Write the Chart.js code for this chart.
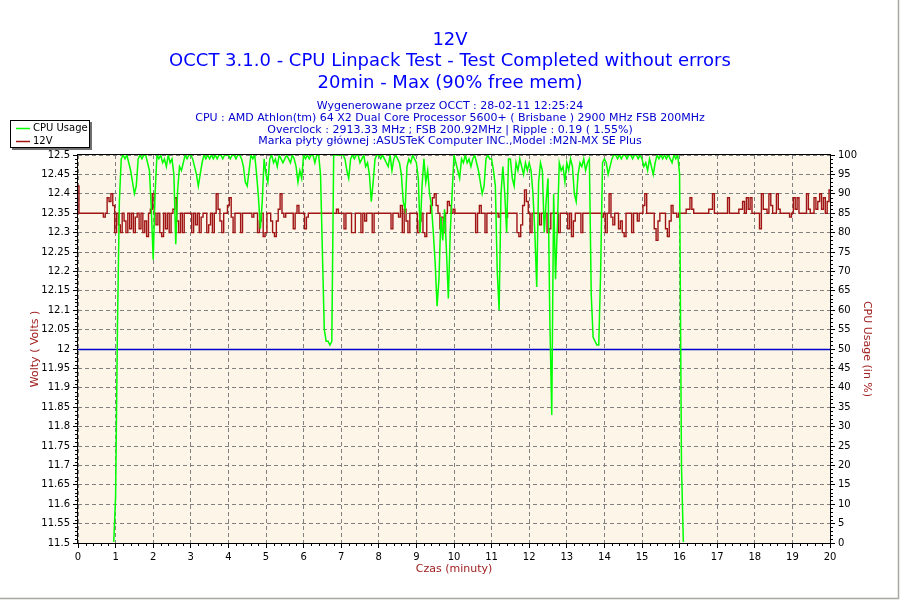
<!DOCTYPE html>
<html>
<head>
<meta charset="utf-8">
<title>12V - OCCT</title>
<script src="https://cdn.jsdelivr.net/npm/chart.js@4/dist/chart.umd.min.js"></script>
<style>
    html, body { margin: 0; padding: 0; background: #fff; }
    #chart { display: block; }
</style>
</head>
<body>
<canvas id="chart" width="900" height="600"></canvas>
<script>
// OCCT 12V graph - CPU Linpack test, 20 min run

// one sample every 0.05 min (3 s), 401 samples per series
const SAMPLE_STEP = 0.05;

// 12V rail (volts), one row per minute
const volts12 = [
    12.42,12.35,12.35,12.35,12.35,12.35,12.35,12.35,12.35,12.35,12.35,12.35,12.35,12.35,12.34,12.35,12.39,12.38,12.40,12.37,
    12.30,12.35,12.32,12.30,12.35,12.33,12.30,12.35,12.31,12.35,12.30,12.34,12.35,12.31,12.35,12.30,12.33,12.29,12.35,12.36,
    12.40,12.35,12.32,12.35,12.30,12.29,12.35,12.31,12.35,12.30,12.35,12.36,12.39,12.33,12.30,12.35,12.30,12.35,12.35,12.35,
    12.35,12.30,12.35,12.32,12.35,12.30,12.34,12.35,12.35,12.30,12.32,12.35,12.30,12.35,12.40,12.36,12.33,12.30,12.35,12.35,
    12.37,12.39,12.34,12.30,12.35,12.35,12.35,12.30,12.35,12.35,12.35,12.35,12.35,12.34,12.35,12.35,12.30,12.33,12.35,12.29,
    12.30,12.35,12.35,12.33,12.30,12.29,12.33,12.36,12.40,12.35,12.34,12.35,12.35,12.35,12.35,12.31,12.35,12.37,12.35,12.35,
    12.35,12.31,12.34,12.35,12.35,12.35,12.35,12.35,12.35,12.35,12.35,12.35,12.35,12.35,12.35,12.35,12.35,12.35,12.36,12.35,
    12.35,12.35,12.31,12.35,12.35,12.35,12.30,12.30,12.35,12.35,12.35,12.30,12.35,12.33,12.35,12.35,12.35,12.30,12.35,12.35,
    12.35,12.35,12.35,12.35,12.35,12.35,12.35,12.31,12.35,12.35,12.35,12.34,12.37,12.30,12.36,12.33,12.30,12.35,12.35,12.35,
    12.35,12.30,12.33,12.35,12.30,12.29,12.35,12.35,12.37,12.39,12.40,12.37,12.35,12.31,12.34,12.30,12.35,12.38,12.37,12.35,
    12.36,12.35,12.35,12.35,12.35,12.35,12.35,12.35,12.35,12.35,12.35,12.35,12.30,12.35,12.37,12.35,12.35,12.30,12.35,12.35,
    12.35,12.35,12.35,12.35,12.34,12.35,12.35,12.35,12.34,12.35,12.35,12.35,12.35,12.35,12.30,12.29,12.32,12.37,12.41,12.38,
    12.35,12.30,12.35,12.35,12.35,12.35,12.32,12.35,12.35,12.35,12.30,12.31,12.35,12.35,12.35,12.35,12.30,12.35,12.35,12.35,
    12.35,12.31,12.35,12.29,12.33,12.35,12.35,12.35,12.30,12.35,12.35,12.35,12.35,12.35,12.35,12.35,12.35,12.35,12.35,12.34,
    12.35,12.30,12.35,12.40,12.34,12.32,12.35,12.35,12.31,12.33,12.30,12.29,12.35,12.35,12.35,12.30,12.35,12.35,12.33,12.35,
    12.35,12.37,12.40,12.35,12.35,12.35,12.35,12.31,12.28,12.33,12.35,12.35,12.35,12.31,12.29,12.33,12.37,12.35,12.35,12.34,
    12.35,12.35,12.35,12.35,12.36,12.36,12.39,12.36,12.35,12.35,12.35,12.35,12.35,12.35,12.35,12.35,12.36,12.36,12.40,12.35,
    12.35,12.35,12.35,12.35,12.35,12.35,12.39,12.35,12.35,12.35,12.35,12.35,12.36,12.36,12.38,12.35,12.39,12.36,12.39,12.35,
    12.35,12.35,12.35,12.31,12.40,12.36,12.36,12.35,12.40,12.37,12.35,12.35,12.40,12.36,12.35,12.35,12.35,12.35,12.35,12.34,
    12.35,12.39,12.36,12.39,12.35,12.35,12.35,12.35,12.40,12.36,12.35,12.35,12.39,12.36,12.38,12.40,12.36,12.39,12.35,12.38,
    12.41
];

// CPU usage (%), one row per minute
const cpuUsage = [
    0,0,0,0,0,0,0,0,0,0,0,0,0,0,0,0,0,0,0,0,
    12,56,88,99,100,99,100,98,96,93,90,92,99,100,99,100,100,98,96,86,
    73,90,100,99,100,98,99,97,100,98,99,95,77,91,97,96,98,100,99,100,
    100,99,97,95,92,95,98,100,99,100,99,100,99,100,99,100,100,99,100,100,
    100,99,100,100,99,100,100,99,97,93,92,96,100,99,100,95,89,81,88,99,
    95,93,99,100,98,99,97,100,99,98,99,100,99,98,100,99,97,93,96,94,
    100,99,100,99,100,100,98,100,100,95,75,55,52,52,51,52,100,100,100,100,
    100,100,99,96,94,99,100,99,100,100,98,99,100,97,98,95,88,93,99,100,
    100,99,100,99,98,97,100,96,99,100,99,98,95,88,86,97,99,98,100,99,
    98,94,80,92,99,93,96,90,87,80,72,61,68,84,78,86,75,63,80,90,
    100,98,96,94,99,98,100,98,99,97,99,100,98,96,93,90,92,99,100,99,
    99,96,92,70,60,90,97,90,80,99,99,94,92,98,96,99,97,95,98,96,
    98,96,90,80,66,93,98,96,80,88,94,57,33,90,68,82,98,96,97,93,
    98,96,99,97,90,88,95,98,97,99,96,98,99,64,53,52,51,51,70,98,
    99,98,95,97,99,100,100,99,100,99,100,100,99,100,100,99,100,100,99,100,
    99,97,98,96,99,97,95,98,100,99,100,99,100,99,100,99,98,100,99,100,
    95,20,0,0,0,0,0,0,0,0,0,0,0,0,0,0,0,0,0,0,
    0,0,0,0,0,0,0,0,0,0,0,0,0,0,0,0,0,0,0,0,
    0,0,0,0,0,0,0,0,0,0,0,0,0,0,0,0,0,0,0,0,
    0,0,0,0,0,0,0,0,0,0,0,0,0,0,0,0,0,0,0,0,
    0
];

const REF_VOLTS = 12;          // horizontal reference line
const VOLT_RANGE = [11.5, 12.5];
const CPU_RANGE = [0, 100];
const TIME_RANGE = [0, 20];

const titleLines = [
    '12V',
    'OCCT 3.1.0 - CPU Linpack Test - Test Completed without errors',
    '20min - Max (90% free mem)'
];
const infoLines = [
    'Wygenerowane przez OCCT : 28-02-11 12:25:24',
    'CPU : AMD Athlon(tm) 64 X2 Dual Core Processor 5600+ ( Brisbane ) 2900 MHz FSB 200MHz',
    'Overclock : 2913.33 MHz ; FSB 200.92MHz | Ripple : 0.19 ( 1.55%)',
    'Marka płyty głównej :ASUSTeK Computer INC.,Model :M2N-MX SE Plus'
];

// plot box in canvas pixels
const PLOT = { left: 78, right: 830, top: 155, bottom: 543 };

const GREEN = '#00ff00';
const RED = '#a01414';
const AXIS_RED = '#a02020';
const FONT = '"DejaVu Sans", Verdana, sans-serif';

function toPoints(values) {
    return values.map((v, i) => ({ x: +(i * SAMPLE_STEP).toFixed(2), y: v }));
}

// backgrounds, reference line, frame, minor ticks and all text
const occtDecor = {
    id: 'occtDecor',
    beforeDraw(chart) {
        const { ctx, chartArea: a } = chart;
        ctx.save();
        ctx.fillStyle = '#ffffff';
        ctx.fillRect(0, 0, chart.width, chart.height);
        ctx.fillStyle = '#fdf6e8';
        ctx.fillRect(a.left, a.top, a.right - a.left, a.bottom - a.top);
        ctx.restore();
    },
    beforeDatasetsDraw(chart) {
        const { ctx, chartArea: a } = chart;
        const y = Math.round(chart.scales.y.getPixelForValue(REF_VOLTS)) + 0.5;
        ctx.save();
        ctx.strokeStyle = '#0000c8';
        ctx.lineWidth = 1.3;
        ctx.beginPath();
        ctx.moveTo(a.left, y);
        ctx.lineTo(a.right, y);
        ctx.stroke();
        ctx.restore();
    },
    afterDatasetsDraw(chart) {
        const { ctx, chartArea: a, scales } = chart;
        ctx.save();
        ctx.strokeStyle = '#000';
        ctx.lineWidth = 1;
        ctx.strokeRect(a.left - 0.5, a.top - 0.5, a.right - a.left + 1, a.bottom - a.top + 1);

        // minor ticks, 5 subdivisions between labelled ticks
        ctx.beginPath();
        const minor = (scale, step, draw) => {
            for (let v = scale.min; v < scale.max - 1e-9; v += step) {
                for (let k = 1; k < 5; k++) draw(Math.round(scale.getPixelForValue(v + k * step / 5)) + 0.5);
            }
        };
        minor(scales.y, 0.05, p => { ctx.moveTo(a.left - 3, p); ctx.lineTo(a.left, p); });
        minor(scales.y1, 5, p => { ctx.moveTo(a.right, p); ctx.lineTo(a.right + 3, p); });
        minor(scales.x, 1, p => { ctx.moveTo(p, a.bottom); ctx.lineTo(p, a.bottom + 3); });
        ctx.stroke();
        ctx.restore();
    },
    afterDraw(chart) {
        const { ctx, chartArea: a } = chart;
        const cx = chart.width / 2;
        ctx.save();

        // titles
        ctx.textAlign = 'center';
        ctx.textBaseline = 'alphabetic';
        ctx.fillStyle = '#0000ff';
        ctx.font = '18px ' + FONT;
        ctx.fillText(titleLines[0], cx, 44.5);
        ctx.fillText(titleLines[1], cx, 66);
        ctx.fillText(titleLines[2], cx, 88);

        ctx.fillStyle = '#0000d0';
        ctx.font = '11px ' + FONT;
        infoLines.forEach((t, i) => ctx.fillText(t, cx, 108.8 + i * 11.85));

        // axis titles
        ctx.fillStyle = AXIS_RED;
        ctx.font = '11px ' + FONT;
        ctx.textBaseline = 'middle';
        const midY = (a.top + a.bottom) / 2;
        ctx.fillText('Czas (minuty)', (a.left + a.right) / 2, 569);
        ctx.save();
        ctx.translate(35, midY);
        ctx.rotate(-Math.PI / 2);
        ctx.fillText('Wolty ( Volts )', 0, 0);
        ctx.restore();
        ctx.save();
        ctx.translate(867, midY);
        ctx.rotate(Math.PI / 2);
        ctx.fillText('CPU Usage (in %)', 0, 0);
        ctx.restore();

        // legend box with shadow
        ctx.fillStyle = '#707070';
        ctx.fillRect(12, 122, 80, 28);
        ctx.fillStyle = '#ffffff';
        ctx.fillRect(10, 120, 80, 28);
        ctx.strokeStyle = '#000';
        ctx.lineWidth = 1;
        ctx.strokeRect(10.5, 120.5, 79, 27);
        const items = chart.data.datasets;
        items.forEach((ds, i) => {
            const y = 128.5 + i * 13;
            ctx.strokeStyle = ds.borderColor;
            ctx.lineWidth = 1.5;
            ctx.beginPath();
            ctx.moveTo(16, y);
            ctx.lineTo(30, y);
            ctx.stroke();
            ctx.fillStyle = '#000';
            ctx.font = '10px ' + FONT;
            ctx.textAlign = 'left';
            ctx.fillText(ds.label, 33, y);
        });

        // window frame at right and bottom
        ctx.strokeStyle = '#a8a8a0';
        ctx.beginPath();
        ctx.moveTo(898.5, 0);
        ctx.lineTo(898.5, 598.5);
        ctx.lineTo(0, 598.5);
        ctx.stroke();
        ctx.restore();
    }
};

const tickFont = { family: FONT, size: 10 };
const gridDash = [4, 3];

new Chart(document.getElementById('chart'), {
    type: 'line',
    data: {
        datasets: [{
            label: 'CPU Usage',
            data: toPoints(cpuUsage),
            yAxisID: 'y1',
            borderColor: GREEN,
            borderWidth: 1.5,
            pointRadius: 0,
            tension: 0,
            clip: { left: 0, top: 0, right: 0, bottom: -1 }
        }, {
            label: '12V',
            data: toPoints(volts12),
            yAxisID: 'y',
            borderColor: RED,
            borderWidth: 1.4,
            pointRadius: 0,
            stepped: 'middle'
        }]
    },
    options: {
        responsive: false,
        animation: false,
        devicePixelRatio: 1,
        layout: { padding: { top: PLOT.top, left: 0, right: 0, bottom: 0 } },
        plugins: {
            legend: { display: false },
            title: { display: false },
            tooltip: { enabled: false }
        },
        scales: {
            x: {
                type: 'linear',
                min: TIME_RANGE[0],
                max: TIME_RANGE[1],
                ticks: { stepSize: 1, autoSkip: false, maxRotation: 0, color: '#000', font: tickFont, padding: 3 },
                grid: { color: '#808080', tickColor: '#000', tickLength: 5, tickBorderDash: [] },
                border: { display: false, dash: gridDash },
                afterFit: s => { s.height = 600 - PLOT.bottom; }
            },
            y: {
                position: 'left',
                min: VOLT_RANGE[0],
                max: VOLT_RANGE[1],
                ticks: {
                    stepSize: 0.05, autoSkip: false, color: '#000', font: tickFont, padding: 3,
                    callback: v => String(+v.toFixed(2))
                },
                grid: { color: '#808080', tickColor: '#000', tickLength: 5, tickBorderDash: [] },
                border: { display: false, dash: gridDash },
                afterFit: s => { s.width = PLOT.left; }
            },
            y1: {
                position: 'right',
                min: CPU_RANGE[0],
                max: CPU_RANGE[1],
                ticks: { stepSize: 5, autoSkip: false, color: '#000', font: tickFont, padding: 3 },
                grid: { drawOnChartArea: false, color: '#000', tickColor: '#000', tickLength: 5 },
                border: { display: false },
                afterFit: s => { s.width = 900 - PLOT.right; }
            }
        }
    },
    plugins: [occtDecor]
});
</script>
</body>
</html>
